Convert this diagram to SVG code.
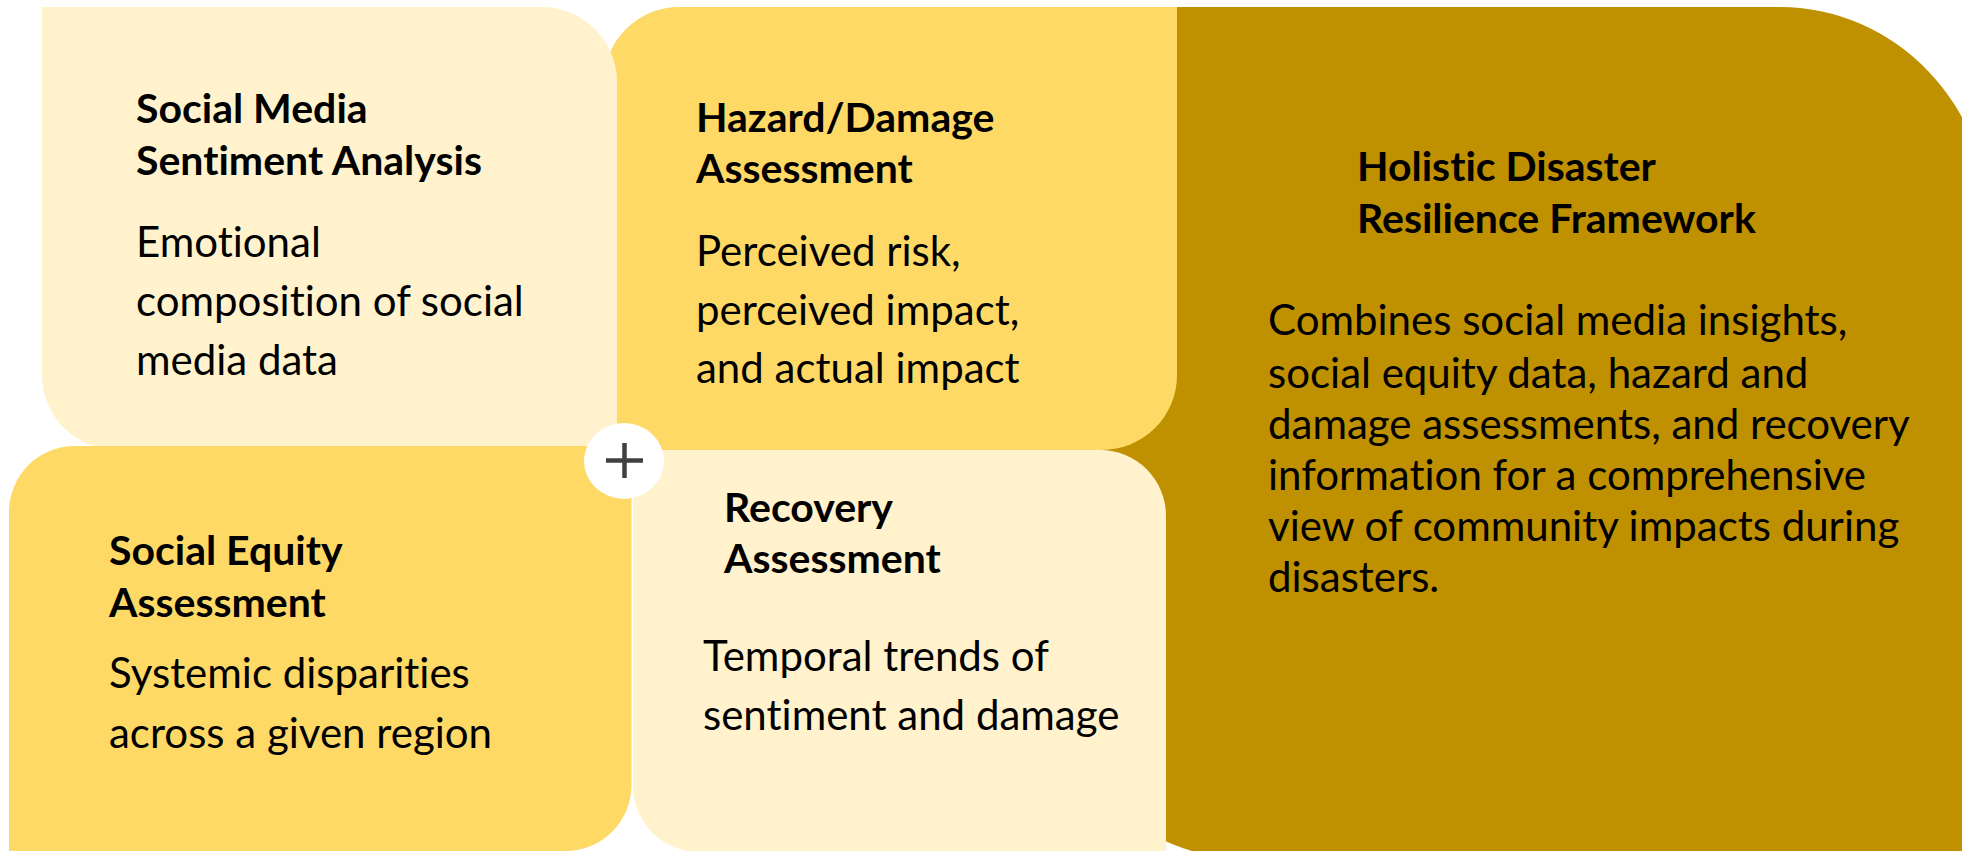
<svg xmlns="http://www.w3.org/2000/svg" width="1962" height="851" viewBox="0 0 1962 851">
  <style>
    .light { fill: #FFF2CC; }
    .mid { fill: #FFD966; }
    .dark { fill: #BF9000; }
    text { font-variant-ligatures: none; font-feature-settings: "liga" 0, "dlig" 0; }
    .title { font-family: Lato, "Liberation Sans", sans-serif; font-weight: bold; font-size: 41px; fill: #000; }
    .body { font-family: Lato, "Liberation Sans", sans-serif; font-size: 42px; fill: #000; }
    .plus { stroke: #404040; stroke-width: 4.5; fill: none; }
  </style>
  <rect width="1962" height="851" fill="#FFFFFF"/>

  <!-- framework panel (back layer) -->
  <g id="framework">
    <path class="dark" d="M1048,7 H1780 A210,220 0 0 1 1990,227 V859 H1248 A200,200 0 0 1 1048,659 Z"/>
    <text class="title"><tspan x="1357" y="181">Holistic Disaster</tspan><tspan x="1357" y="233">Resilience Framework</tspan></text>
    <text class="body"><tspan x="1268" y="335">Combines social media insights,</tspan><tspan x="1268" y="388">social equity data, hazard and</tspan><tspan x="1268" y="439">damage assessments, and recovery</tspan><tspan x="1268" y="490">information for a comprehensive</tspan><tspan x="1268" y="541">view of community impacts during</tspan><tspan x="1268" y="592">disasters.</tspan></text>
  </g>

  <!-- hazard / damage -->
  <g id="hazard">
    <path class="mid" d="M679,7 H1177 V375 A75,75 0 0 1 1102,450 H604 V82 A75,75 0 0 1 679,7 Z"/>
    <text class="title"><tspan x="696" y="132">Hazard/Damage</tspan><tspan x="696" y="183">Assessment</tspan></text>
    <text class="body"><tspan x="696" y="266">Perceived risk,</tspan><tspan x="696" y="325">perceived impact,</tspan><tspan x="696" y="383">and actual impact</tspan></text>
  </g>

  <!-- social media sentiment -->
  <g id="sentiment">
    <path class="light" d="M42,7 H542 A75,75 0 0 1 617,82 V450 H117 A75,75 0 0 1 42,375 Z"/>
    <text class="title"><tspan x="136" y="123">Social Media</tspan><tspan x="136" y="175">Sentiment Analysis</tspan></text>
    <text class="body"><tspan x="136" y="257">Emotional</tspan><tspan x="136" y="316">composition of social</tspan><tspan x="136" y="375">media data</tspan></text>
  </g>

  <!-- recovery -->
  <g id="recovery">
    <path class="light" d="M633,450 H1100 A66,66 0 0 1 1166,516 V852 H699 A66,66 0 0 1 633,786 Z"/>
    <text class="title"><tspan x="724" y="522">Recovery</tspan><tspan x="724" y="573">Assessment</tspan></text>
    <text class="body"><tspan x="703" y="671">Temporal trends of</tspan><tspan x="703" y="730">sentiment and damage</tspan></text>
  </g>

  <!-- social equity -->
  <g id="equity">
    <path class="mid" d="M75,446 H631.5 V785 A66,66 0 0 1 565.5,851 H9 V512 A66,66 0 0 1 75,446 Z"/>
    <text class="title"><tspan x="109" y="565">Social Equity</tspan><tspan x="109" y="617">Assessment</tspan></text>
    <text class="body"><tspan x="109" y="688">Systemic disparities</tspan><tspan x="109" y="748">across a given region</tspan></text>
  </g>

  <!-- plus badge where the four inputs meet -->
  <g id="combine">
    <ellipse cx="624" cy="461" rx="40" ry="38" fill="#FFFFFF"/>
    <path class="plus" d="M606,460.5 H643 M624.5,443 V478"/>
  </g>

  <g id="connectors"/>
</svg>
